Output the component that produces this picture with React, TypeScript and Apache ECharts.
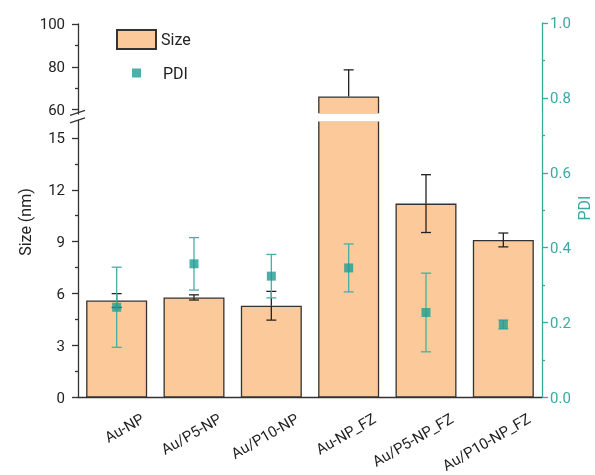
import React, { useEffect, useRef } from "react";
import * as echarts from "echarts";

const categories = ["Au-NP", "Au/P5-NP", "Au/P10-NP", "Au-NP_FZ", "Au/P5-NP_FZ", "Au/P10-NP_FZ"];
const sizeValues = [5.6, 5.78, 5.3, 66.2, 11.2, 9.1];
const sizeErrors = [0.4, 0.15, 0.83, 12.4, 1.67, 0.4];
const pdiValues = [0.241, 0.357, 0.324, 0.346, 0.227, 0.195];
const pdiErrors = [0.107, 0.07, 0.058, 0.064, 0.105, 0.012];

const lowerTicks = [0, 3, 6, 9, 12, 15];
const lowerMinorTicks = [1.5, 4.5, 7.5, 10.5, 13.5];
const upperTicks = [60, 80, 100];
const upperMinorTicks = [70, 90];

const FONT = "Roboto, 'Liberation Sans', sans-serif";
const DARK = "#333333";
const TEAL = "#3aa9a1";
const MARK = "#1c9d95";
const BAR = "#fcca9a";

function errorRender(color: string) {
  return (params: any, api: any) => {
    const x = api.value(0);
    const v = api.value(1);
    const e = api.value(2);
    const cs = params.coordSys;
    const mid = api.coord([x, v]);
    const top = api.coord([x, v + e]);
    const bot = api.coord([x, v - e]);
    const half = 5;
    const style = { stroke: color, lineWidth: 1.3, fill: "none" };
    const children: any[] = [
      { type: "line", shape: { x1: mid[0], y1: mid[1], x2: top[0], y2: top[1] }, style },
      { type: "line", shape: { x1: top[0] - half, y1: top[1], x2: top[0] + half, y2: top[1] }, style },
    ];
    if (bot[1] <= cs.y + cs.height + 0.5) {
      children.push(
        { type: "line", shape: { x1: mid[0], y1: mid[1], x2: bot[0], y2: bot[1] }, style },
        { type: "line", shape: { x1: bot[0] - half, y1: bot[1], x2: bot[0] + half, y2: bot[1] }, style }
      );
    }
    return { type: "group", children };
  };
}

const LOWER_MAX = 16;
const UPPER_MIN = 58;

export default function App() {
  const ref = useRef<HTMLDivElement>(null);
  useEffect(() => {
    const chart = echarts.init(ref.current as HTMLDivElement, null, { renderer: "svg" });
    const axisText = { fontFamily: FONT, fontSize: 15, color: "#222" };
    const option: any = {
      animation: false,
      textStyle: { fontFamily: FONT },
      grid: [
        { left: 78, right: 53, top: 24, height: 90, outerBoundsMode: "none", containLabel: false },
        { left: 78, right: 53, top: 120.5, height: 277, outerBoundsMode: "none", containLabel: false },
        { left: 78, right: 53, top: 23, height: 374.5, outerBoundsMode: "none", containLabel: false },
      ],
      legend: [
        {
          data: ["Size"],
          left: 111,
          top: 24,
          itemWidth: 39,
          itemHeight: 19,
          icon: "rect",
          selectedMode: false,
          textStyle: { ...axisText, fontSize: 16 },
        },
        {
          data: ["PDI"],
          left: 127,
          top: 60,
          itemWidth: 9,
          itemHeight: 9,
          icon: "rect",
          selectedMode: false,
          textStyle: { ...axisText, fontSize: 16, padding: [0, 0, 0, 17] },
        },
      ],
      xAxis: [
        { gridIndex: 0, type: "category", data: categories, show: false },
        {
          gridIndex: 1,
          type: "category",
          data: categories,
          position: "bottom",
          axisLine: { lineStyle: { color: DARK, width: 1.3 } },
          axisTick: { alignWithLabel: true, length: 6, lineStyle: { color: DARK, width: 1.3 } },
          axisLabel: {
            ...axisText,
            interval: 0,
            rotate: 30,
            align: "right",
            verticalAlign: "middle",
            padding: [0, -30, 0, 0],
            margin: 35,
          },
        },
        {
          gridIndex: 1,
          type: "category",
          data: categories,
          position: "bottom",
          axisLine: { show: false },
          axisTick: { length: 3, lineStyle: { color: DARK, width: 1.3 } },
          axisLabel: { show: false },
        },
        { gridIndex: 2, type: "category", data: categories, show: false },
      ],
      yAxis: [
        {
          gridIndex: 0,
          type: "value",
          position: "left",
          min: UPPER_MIN,
          max: 100,
          splitLine: { show: false },
          axisLine: { show: true, lineStyle: { color: DARK, width: 1.3 } },
          axisTick: { show: true, customValues: upperTicks, length: 6, lineStyle: { color: DARK, width: 1.3 } },
          axisLabel: { ...axisText, customValues: upperTicks, margin: 13 },
        },
        {
          gridIndex: 0,
          type: "value",
          position: "left",
          min: UPPER_MIN,
          max: 100,
          splitLine: { show: false },
          axisLine: { show: false },
          axisTick: { show: true, customValues: upperMinorTicks, length: 3, lineStyle: { color: DARK, width: 1.3 } },
          axisLabel: { show: false },
        },
        {
          gridIndex: 1,
          type: "value",
          position: "left",
          min: 0,
          max: LOWER_MAX,
          splitLine: { show: false },
          axisLine: { show: true, lineStyle: { color: DARK, width: 1.3 } },
          axisTick: { show: true, customValues: lowerTicks, length: 6, lineStyle: { color: DARK, width: 1.3 } },
          axisLabel: { ...axisText, customValues: lowerTicks, margin: 13 },
        },
        {
          gridIndex: 1,
          type: "value",
          position: "left",
          min: 0,
          max: LOWER_MAX,
          splitLine: { show: false },
          axisLine: { show: false },
          axisTick: { show: true, customValues: lowerMinorTicks, length: 3, lineStyle: { color: DARK, width: 1.3 } },
          axisLabel: { show: false },
        },
        {
          gridIndex: 2,
          type: "value",
          position: "right",
          min: 0,
          max: 1,
          interval: 0.2,
          splitLine: { show: false },
          axisLine: { show: true, lineStyle: { color: TEAL, width: 1.3 } },
          axisTick: { show: true, length: 6, lineStyle: { color: TEAL, width: 1.3 } },
          minorTick: { show: true, splitNumber: 2, length: 3, lineStyle: { color: TEAL, width: 1.3 } },
          axisLabel: { ...axisText, color: TEAL, margin: 8, formatter: (v: number) => v.toFixed(1) },
        },
      ],
      graphic: [
        {
          type: "rect",
          z: 100,
          shape: { x: 79.5, y: 113.2, width: 462, height: 8.2 },
          style: { fill: "#ffffff" },
        },
        {
          type: "line",
          z: 101,
          shape: { x1: 70, y1: 115.3, x2: 85, y2: 110.3 },
          style: { stroke: DARK, lineWidth: 1.3 },
        },
        {
          type: "line",
          z: 101,
          shape: { x1: 70, y1: 122.8, x2: 85, y2: 117.8 },
          style: { stroke: DARK, lineWidth: 1.3 },
        },
        {
          type: "text",
          z: 101,
          x: 25,
          y: 222,
          rotation: Math.PI / 2,
          style: {
            text: "Size (nm)",
            fontFamily: FONT,
            fontSize: 16,
            fill: "#222",
            align: "center",
            verticalAlign: "middle",
          },
        },
        {
          type: "text",
          z: 101,
          x: 584,
          y: 208,
          rotation: Math.PI / 2,
          style: {
            text: "PDI",
            fontFamily: FONT,
            fontSize: 16,
            fill: TEAL,
            align: "center",
            verticalAlign: "middle",
          },
        },
      ],
      series: [
        {
          name: "Size",
          type: "bar",
          xAxisIndex: 0,
          yAxisIndex: 0,
          barWidth: 61,
          z: 2,
          data: sizeValues.map((v) => (v >= UPPER_MIN ? v : "-")),
          itemStyle: { color: BAR, borderColor: DARK, borderWidth: 1.3 },
        },
        {
          name: "Size",
          type: "bar",
          xAxisIndex: 1,
          yAxisIndex: 2,
          barWidth: 61,
          z: 2,
          data: sizeValues,
          itemStyle: { color: BAR, borderColor: DARK, borderWidth: 1.3 },
        },
        {
          type: "custom",
          xAxisIndex: 0,
          yAxisIndex: 0,
          z: 3,
          renderItem: errorRender("#222"),
          data: sizeValues
            .map((v, i) => [i, v, sizeErrors[i]])
            .filter((d) => d[1] >= UPPER_MIN),
        },
        {
          type: "custom",
          xAxisIndex: 1,
          yAxisIndex: 2,
          z: 3,
          renderItem: errorRender("#222"),
          data: sizeValues
            .map((v, i) => [i, v, sizeErrors[i]])
            .filter((d) => d[1] + d[2] <= LOWER_MAX),
        },
        {
          type: "custom",
          xAxisIndex: 3,
          yAxisIndex: 4,
          z: 4,
          renderItem: errorRender("#45b0a8"),
          data: pdiValues.map((v, i) => [i, v, pdiErrors[i]]),
        },
        {
          name: "PDI",
          type: "scatter",
          xAxisIndex: 3,
          yAxisIndex: 4,
          z: 5,
          symbol: "rect",
          symbolSize: 9,
          itemStyle: { color: MARK },
          data: pdiValues,
        },
      ],
    };
    chart.setOption(option);
    return () => chart.dispose();
  }, []);
  return <div ref={ref} style={{ position: "fixed", left: 0, top: 0, width: 595, height: 475 }} />;
}
